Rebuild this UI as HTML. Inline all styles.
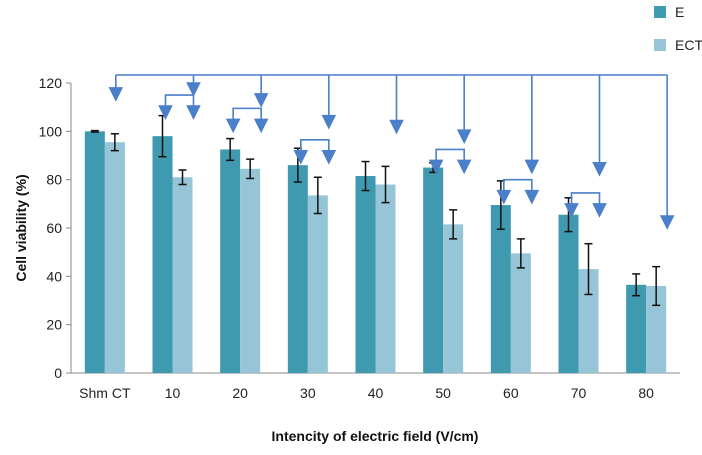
<!DOCTYPE html>
<html><head><meta charset="utf-8"><style>
body{margin:0;background:#fff;font-family:"Liberation Sans",sans-serif}
svg text{font-family:"Liberation Sans",sans-serif}
</style></head><body>
<svg id="c" width="702" height="450"></svg>
<script>
const categories=["Shm CT","10","20","30","40","50","60","70","80"];
const eValues=[100,98,92.5,86,81.5,85,69.5,65.5,36.5];
const eErrors=[0.3,8.5,4.5,7,6,2,10,7,4.5];
const ectValues=[95.5,81,84.5,73.5,78,61.5,49.5,43,36];
const ectErrors=[3.5,3,4,7.5,7.5,6,6,10.5,8];
const yTicks=[0,20,40,60,80,100,120];
const arrowTipValues=[113,115,110.5,101.5,99.5,95.5,83,82,60];
const bracketValues=[null,115,109.5,96.5,null,92.5,80,74.5,null];

const svg=document.getElementById('c');
const NS='http://www.w3.org/2000/svg';
const x0=71,x1=680,y0=373,y120=83;
const bw=(x1-x0)/categories.length;
function xc(i){return x0+bw*(i+0.5);}
function y(v){return y0-(v/120)*(y0-y120);}
function mk(t,a,p){const e=document.createElementNS(NS,t);for(const k in a)e.setAttribute(k,a[k]);(p||svg).appendChild(e);return e;}
const blue='#4a7fc9';
let ax=mk('line',{x1:x0,y1:y(0),x2:x1,y2:y(0),stroke:'#888','stroke-width':1});


let ay=mk('line',{x1:x0,y1:y(0),x2:x0,y2:y(120),stroke:'#888','stroke-width':1});


yTicks.forEach(t=>{
 const tk=mk('line',{x1:x0-5,y1:y(t),x2:x0,y2:y(t),stroke:'#888'});
 
 
 const tx=mk('text',{x:x0-9,y:y(t)+5,'text-anchor':'end','font-size':14,fill:'#222'});
 tx.textContent=t;
 
 
});
categories.forEach((c,i)=>{
 const tx=mk('text',{x:xc(i),y:398,'text-anchor':'middle','font-size':14,fill:'#222'});
 tx.textContent=c;
 
 
 const cx=xc(i);
 [[eValues,eErrors,'#3f9ab0',-20,'bar-e'],[ectValues,ectErrors,'#95c5d7',0,'bar-ect']].forEach(s=>{
  const v=s[0][i],er=s[1][i];
  const r=mk('rect',{x:cx+s[3],y:y(v),width:20,height:y(0)-y(v),fill:s[2]});
  
  
  const ex=cx+s[3]+10;
  const g=mk('g',{stroke:'#111','stroke-width':1.5});
  
  
  mk('line',{x1:ex,y1:y(v+er),x2:ex,y2:y(v-er)},g);
  mk('line',{x1:ex-4,y1:y(v+er),x2:ex+4,y2:y(v+er)},g);
  mk('line',{x1:ex-4,y1:y(v-er),x2:ex+4,y2:y(v-er)},g);
 });
});
const topY=75;
function arrowHead(x,tip,p){mk('polygon',{points:`${x-6},${tip-12} ${x+6},${tip-12} ${x},${tip}`,fill:blue},p);}
const ann=mk('g',{stroke:blue,'stroke-width':1.6,fill:'none'});


const vx=categories.map((c,i)=>i===0?xc(i)+11:xc(i)+21);
mk('line',{x1:vx[0],y1:topY,x2:vx[vx.length-1],y2:topY},ann);
arrowTipValues.forEach((v,i)=>{
 const tip=y(v);
 mk('line',{x1:vx[i],y1:topY,x2:vx[i],y2:tip-10},ann);
 arrowHead(vx[i],tip,ann);
 const b=bracketValues[i];
 if(b!==null){
  const by=y(b),xa=xc(i)-7,xb=xc(i)+21,tip2=by+23;
  mk('polyline',{points:`${xa},${tip2-10} ${xa},${by} ${xb},${by} ${xb},${tip2-10}`},ann);
  arrowHead(xa,tip2,ann);arrowHead(xb,tip2,ann);
 }
});
[['E','#3f9ab0',12],['ECT','#95c5d7',45]].forEach(l=>{
 const g=mk('g',{});
 
 
 mk('rect',{x:654,y:l[2]-6,width:12,height:12,fill:l[1]},g);
 const t=mk('text',{x:675,y:l[2]+5,'font-size':14,fill:'#222'},g);t.textContent=l[0];
});
const yt=mk('text',{x:0,y:0,'font-size':14,'font-weight':'bold','text-anchor':'middle',transform:'translate(26,228) rotate(-90)',fill:'#111'});
yt.textContent='Cell viability (%)';


const xt=mk('text',{x:375,y:441,'font-size':14,'font-weight':'bold','text-anchor':'middle',fill:'#111'});
xt.textContent='Intencity of electric field (V/cm)';


</script>
</body></html>
